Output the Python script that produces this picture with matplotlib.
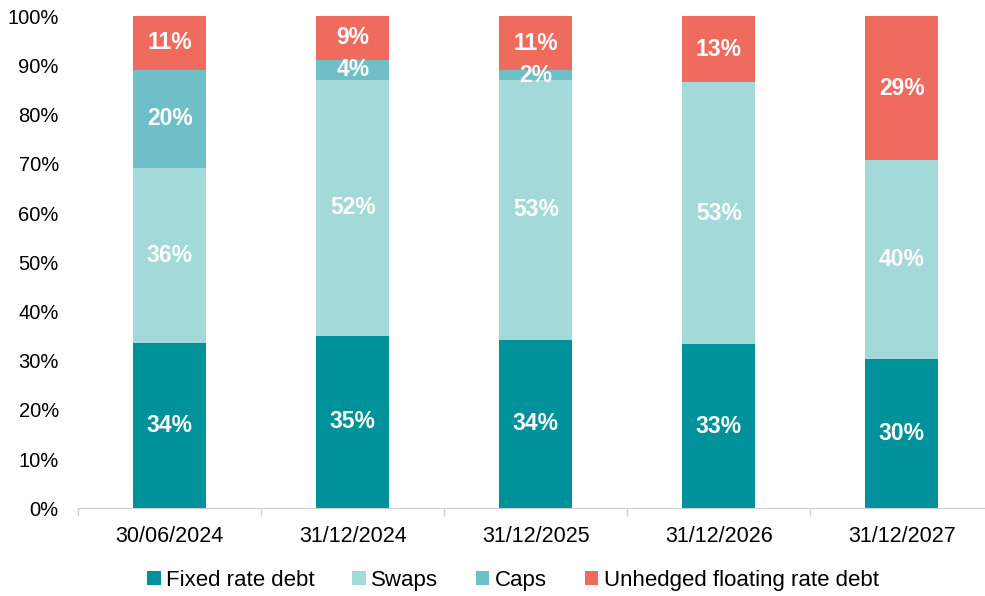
import numpy as np
import matplotlib
matplotlib.use("Agg")
import matplotlib.pyplot as plt
from matplotlib.ticker import PercentFormatter, FixedLocator

plt.rcParams['font.family'] = ['Liberation Sans', 'DejaVu Sans']

dates = ['30/06/2024', '31/12/2024', '31/12/2025', '31/12/2026', '31/12/2027']
fixed = [33.6, 35.1, 34.3, 33.3, 30.4]
swaps = [35.6, 51.9, 52.7, 53.3, 40.3]
caps = [19.9, 4.1, 2.0, 0.0, 0.0]
unhedged = [10.9, 8.9, 11.0, 13.4, 29.3]

series = [
    ('Fixed rate debt', fixed, '#00929A'),
    ('Swaps', swaps, '#A3D9D8'),
    ('Caps', caps, '#6FBFC9'),
    ('Unhedged floating rate debt', unhedged, '#EE6B5E'),
]

fig = plt.figure(figsize=(9.85, 5.96), dpi=100)
ax = fig.add_axes([0.0795, 0.147, 0.929, 0.826])

x = np.arange(len(dates))
bottom = np.zeros(len(dates))
for name, vals, col in series:
    vals = np.array(vals)
    ax.bar(x, vals, 0.4, bottom=bottom, color=col, label=name, zorder=2)
    for xi, b, v in zip(x, bottom, vals):
        if v >= 1:
            ax.text(xi, b + v / 2, f'{v:.0f}%', ha='center', va='center',
                    color='white', fontsize=16.5, fontweight='bold', zorder=3)
    bottom += vals

ax.set_xlim(-0.5, len(dates) - 0.5)
ax.set_ylim(0, 100)
ax.yaxis.set_major_locator(FixedLocator(np.arange(0, 101, 10)))
ax.yaxis.set_major_formatter(PercentFormatter(decimals=0))
ax.set_xticks(x)
ax.set_xticklabels(dates)
ax.xaxis.set_minor_locator(FixedLocator(np.arange(-0.5, len(dates), 1)))
ax.tick_params(axis='x', which='major', length=0, pad=13, labelsize=15.5)
ax.tick_params(axis='x', which='minor', length=6, color='#D0D0D0', width=1)
ax.tick_params(axis='y', length=0, pad=14, labelsize=14.5)

for s in ['top', 'right', 'left']:
    ax.spines[s].set_visible(False)
ax.spines['bottom'].set_color('#D0D0D0')

ax.legend(loc='upper center', bbox_to_anchor=(0.475, -0.085), ncol=4, frameon=False,
          fontsize=16, handlelength=0.6, handleheight=0.6, handletextpad=0.25,
          columnspacing=1.7)

fig.savefig('out.png', dpi=100)
